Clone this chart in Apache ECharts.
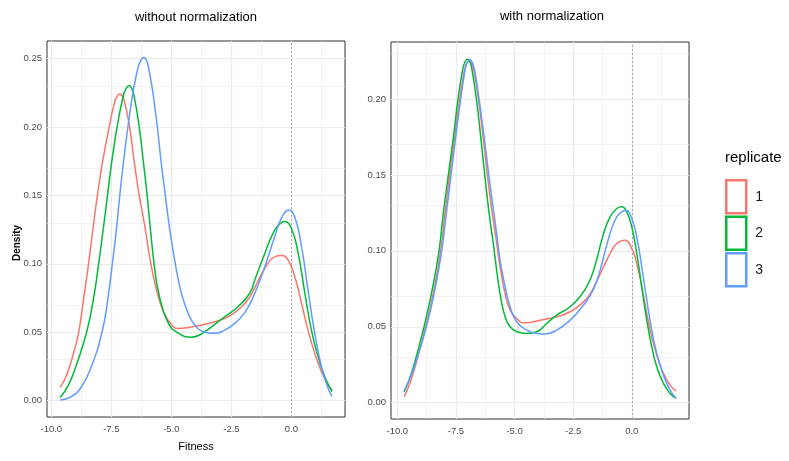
<!DOCTYPE html>
<html><head><meta charset="utf-8">
<script src="https://cdn.jsdelivr.net/npm/echarts@6/dist/echarts.min.js"></script>
<style>html,body{margin:0;padding:0;background:#fff}#c{width:789px;height:461px}</style>
</head><body><div id="c"></div>
<script>
// ---- data ----
const replicates = ['1', '2', '3'];
const panelTitles = ['without normalization', 'with normalization'];
const xTitle = 'Fitness';
const yTitle = 'Density';
const legendTitle = 'replicate';
const xTicks = [-10, -7.5, -5, -2.5, 0];
const xMinor = [-8.75, -6.25, -3.75, -1.25, 1.25];
const yTicksLeft = [0, 0.05, 0.10, 0.15, 0.20, 0.25];
const yMinorLeft = [0.025, 0.075, 0.125, 0.175, 0.225];
const yTicksRight = [0, 0.05, 0.10, 0.15, 0.20];
const yMinorRight = [0.025, 0.075, 0.125, 0.175, 0.225];

// without normalization
const rawRep1 = [[-9.63,0.0097],[-9.43,0.016],[-9.24,0.025],[-9.04,0.037],[-8.86,0.05],[-8.65,0.075],[-8.45,0.10],[-8.27,0.125],[-8.08,0.15],[-7.86,0.175],[-7.59,0.20],[-7.36,0.2185],[-7.25,0.2226],[-7.15,0.224],[-7.05,0.2226],[-6.95,0.2185],[-6.74,0.20],[-6.55,0.175],[-6.34,0.15],[-6.11,0.128],[-5.97,0.112],[-5.83,0.098],[-5.62,0.081],[-5.35,0.066],[-5.0,0.0555],[-4.72,0.0528],[-4.3,0.0535],[-3.75,0.0553],[-3.2,0.0577],[-2.64,0.0613],[-2.08,0.0686],[-1.74,0.0757],[-1.53,0.0825],[-1.11,0.0966],[-0.70,0.1051],[-0.40,0.106],[-0.14,0.1027],[0.14,0.0905],[0.42,0.0711],[0.69,0.0516],[0.97,0.0346],[1.25,0.0212],[1.53,0.0114],[1.69,0.0078]];
const rawRep2 = [[-9.63,0.0024],[-9.30,0.011],[-8.98,0.025],[-8.53,0.05],[-8.24,0.075],[-8.03,0.10],[-7.84,0.125],[-7.66,0.15],[-7.48,0.175],[-7.26,0.20],[-7.0,0.223],[-6.87,0.2285],[-6.76,0.2303],[-6.66,0.2285],[-6.55,0.2224],[-6.34,0.20],[-6.17,0.175],[-6.01,0.15],[-5.86,0.123],[-5.72,0.10],[-5.52,0.078],[-5.14,0.057],[-4.72,0.0495],[-4.17,0.0464],[-3.82,0.048],[-3.33,0.054],[-2.78,0.0613],[-2.22,0.0688],[-1.74,0.0785],[-1.53,0.088],[-1.11,0.1076],[-0.70,0.1246],[-0.42,0.130],[-0.28,0.1309],[0.0,0.1258],[0.28,0.1076],[0.56,0.0784],[0.83,0.0516],[1.11,0.0321],[1.39,0.0175],[1.69,0.0066]];
const rawRep3 = [[-9.63,0.0005],[-9.17,0.003],[-8.75,0.010],[-8.33,0.025],[-7.89,0.05],[-7.64,0.075],[-7.46,0.10],[-7.29,0.125],[-7.15,0.15],[-6.99,0.175],[-6.81,0.20],[-6.60,0.225],[-6.38,0.244],[-6.26,0.2492],[-6.15,0.2507],[-6.05,0.2492],[-5.97,0.2447],[-5.83,0.2318],[-5.69,0.2147],[-5.555,0.1952],[-5.42,0.1733],[-5.28,0.1538],[-5.14,0.1343],[-5.0,0.1173],[-4.79,0.0954],[-4.58,0.0784],[-4.30,0.0638],[-4.03,0.0553],[-3.68,0.0504],[-3.19,0.0492],[-2.78,0.0516],[-2.36,0.0565],[-1.94,0.0645],[-1.53,0.0784],[-1.11,0.0979],[-0.70,0.1198],[-0.42,0.1332],[-0.11,0.1394],[0.14,0.1343],[0.42,0.1125],[0.69,0.0808],[0.97,0.0492],[1.25,0.0248],[1.53,0.009],[1.69,0.0034]];

// with normalization
const normRep1 = [[-9.71,0.0039],[-9.46,0.013],[-9.22,0.025],[-8.79,0.05],[-8.43,0.075],[-8.15,0.10],[-7.965,0.125],[-7.766,0.15],[-7.553,0.175],[-7.339,0.20],[-7.14,0.2188],[-7.04,0.2234],[-6.941,0.225],[-6.84,0.2234],[-6.74,0.2188],[-6.543,0.20],[-6.344,0.175],[-6.159,0.15],[-5.97,0.127],[-5.76,0.1048],[-5.618,0.0895],[-5.405,0.0719],[-5.192,0.061],[-4.907,0.0555],[-4.623,0.0526],[-4.196,0.0533],[-3.77,0.0548],[-3.201,0.0566],[-2.632,0.0599],[-2.063,0.0664],[-1.779,0.0715],[-1.495,0.0800],[-1.21,0.0893],[-0.926,0.0982],[-0.641,0.1048],[-0.30,0.107],[0.0,0.1015],[0.212,0.0917],[0.425,0.0763],[0.639,0.0588],[0.852,0.0434],[1.065,0.0314],[1.35,0.0193],[1.634,0.0116],[1.89,0.0077]];
const normRep2 = [[-9.71,0.0072],[-9.50,0.015],[-9.287,0.025],[-8.861,0.05],[-8.505,0.075],[-8.221,0.10],[-8.036,0.125],[-7.823,0.15],[-7.609,0.175],[-7.41,0.20],[-7.21,0.2196],[-7.11,0.2245],[-7.012,0.2261],[-6.91,0.2245],[-6.82,0.2196],[-6.628,0.20],[-6.443,0.175],[-6.273,0.15],[-6.088,0.125],[-5.9,0.104],[-5.76,0.087],[-5.618,0.0719],[-5.405,0.0566],[-5.192,0.05],[-4.907,0.0467],[-4.48,0.0456],[-4.054,0.0467],[-3.627,0.0522],[-3.201,0.0577],[-2.632,0.0632],[-2.205,0.0700],[-1.85,0.0785],[-1.565,0.0905],[-1.21,0.1110],[-0.926,0.1224],[-0.641,0.1279],[-0.428,0.129],[-0.215,0.1257],[0.0,0.1158],[0.212,0.0982],[0.425,0.0763],[0.639,0.0544],[0.852,0.0368],[1.065,0.0237],[1.35,0.0127],[1.634,0.0061],[1.89,0.0029]];
const normRep3 = [[-9.71,0.0077],[-9.48,0.0155],[-9.245,0.025],[-8.761,0.05],[-8.392,0.075],[-8.107,0.10],[-7.908,0.125],[-7.709,0.15],[-7.51,0.175],[-7.297,0.20],[-7.105,0.2194],[-7.01,0.2243],[-6.913,0.2259],[-6.81,0.2243],[-6.71,0.2194],[-6.514,0.20],[-6.30,0.175],[-6.10,0.15],[-5.92,0.129],[-5.76,0.111],[-5.62,0.094],[-5.40,0.0763],[-5.19,0.0632],[-4.91,0.0533],[-4.48,0.0478],[-4.05,0.0456],[-3.70,0.0452],[-3.20,0.0478],[-2.63,0.0544],[-2.06,0.0643],[-1.779,0.0705],[-1.495,0.0800],[-1.21,0.0955],[-0.926,0.1114],[-0.641,0.1224],[-0.36,0.1263],[-0.24,0.1268],[0.0,0.1213],[0.212,0.1092],[0.425,0.0895],[0.639,0.0675],[0.852,0.0478],[1.065,0.0325],[1.35,0.0182],[1.634,0.0083],[1.89,0.0029]];

// ---- styling ----
const colors = ['#F8766D', '#00BA38', '#619CFF'];
const FONT = '"Liberation Sans", Arial, sans-serif';
const panels = [
  { series: [rawRep1, rawRep2, rawRep3], yTicks: yTicksLeft, yMinor: yMinorLeft,
    grid: { left: 47, top: 41, width: 298, height: 376 }, xRange: [-10.18, 2.23], yRange: [-0.0119, 0.2628] },
  { series: [normRep1, normRep2, normRep3], yTicks: yTicksRight, yMinor: yMinorRight,
    grid: { left: 391, top: 42, width: 298, height: 377 }, xRange: [-10.27, 2.44], yRange: [-0.0107, 0.2375] }
];

const chart = echarts.init(document.getElementById('c'), null, { renderer: 'canvas' });
const grids = [], xAxes = [], yAxes = [], series = [];
panels.forEach((p, i) => {
  grids.push(Object.assign({ show: true, backgroundColor: '#fff', borderColor: '#333', borderWidth: 1, containLabel: false }, p.grid));
  xAxes.push({
    type: 'value', gridIndex: i, min: p.xRange[0], max: p.xRange[1],
    axisLine: { show: false },
    axisTick: { show: true, length: 3, customValues: xTicks, lineStyle: { color: '#333', width: 1 } },
    axisLabel: { customValues: xTicks, formatter: v => v.toFixed(1), color: '#4D4D4D', fontSize: 9.5, fontFamily: FONT, margin: 7 },
    splitLine: { show: false }
  });
  yAxes.push({
    type: 'value', gridIndex: i, min: p.yRange[0], max: p.yRange[1],
    axisLine: { show: false },
    axisTick: { show: true, length: 3, customValues: p.yTicks, lineStyle: { color: '#333', width: 1 } },
    axisLabel: { customValues: p.yTicks, formatter: v => v.toFixed(2), color: '#4D4D4D', fontSize: 9.5, fontFamily: FONT, margin: 5 },
    splitLine: { show: false }
  });
  const gl = [];
  p.yMinor.filter(v => v < p.yRange[1]).forEach(v => gl.push({ yAxis: v, lineStyle: { color: '#EBEBEB', width: 0.6, type: 'solid' } }));
  xMinor.forEach(v => gl.push({ xAxis: v, lineStyle: { color: '#EBEBEB', width: 0.6, type: 'solid' } }));
  p.yTicks.forEach(v => gl.push({ yAxis: v, lineStyle: { color: '#EBEBEB', width: 1.2, type: 'solid' } }));
  xTicks.forEach(v => gl.push({ xAxis: v, lineStyle: { color: '#EBEBEB', width: 1.2, type: 'solid' } }));
  gl.push({ xAxis: 0, lineStyle: { color: '#999', width: 0.8, type: [2, 2] } });
  series.push({
    type: 'line', name: '_grid' + i, xAxisIndex: i, yAxisIndex: i, data: [], symbol: 'none', z: 1, silent: true,
    markLine: { silent: true, z: 1, symbol: ['none', 'none'], label: { show: false }, animation: false, data: gl }
  });
  p.series.forEach((d, k) => {
    series.push({
      type: 'line', name: replicates[k], xAxisIndex: i, yAxisIndex: i, data: d,
      smooth: 0.5, symbol: 'none', showSymbol: false, z: 3,
      lineStyle: { color: colors[k], width: 1.5 }, itemStyle: { color: colors[k] }
    });
  });
});

chart.setOption({
  animation: false,
  backgroundColor: '#fff',
  grid: grids, xAxis: xAxes, yAxis: yAxes, series: series,
  legend: {
    show: true, orient: 'vertical', left: 725, top: 179, padding: 0, selectedMode: false,
    icon: 'rect', itemWidth: 20, itemHeight: 33, itemGap: 1,
    data: replicates.map((r, k) => ({ name: r, itemStyle: { color: '#fff', borderColor: colors[k], borderWidth: 2.5 } })),
    textStyle: { fontSize: 14, color: '#1a1a1a', fontFamily: FONT, padding: [0, 0, 0, 4] }
  },
  graphic: [
    { type: 'text', x: 196, y: 17, style: { text: panelTitles[0], align: 'center', verticalAlign: 'middle', font: '13px ' + FONT, fill: '#000' } },
    { type: 'text', x: 552, y: 16, style: { text: panelTitles[1], align: 'center', verticalAlign: 'middle', font: '13px ' + FONT, fill: '#000' } },
    { type: 'text', x: 196, y: 447, style: { text: xTitle, align: 'center', verticalAlign: 'middle', font: '11px ' + FONT, fill: '#000' } },
    { type: 'text', x: 17, y: 243, rotation: Math.PI / 2, style: { text: yTitle, align: 'center', verticalAlign: 'middle', font: 'bold 10px ' + FONT, fill: '#000' } },
    { type: 'text', x: 725, y: 158, style: { text: legendTitle, align: 'left', verticalAlign: 'middle', font: '15px ' + FONT, fill: '#000' } }
  ]
});
</script>
</body></html>
